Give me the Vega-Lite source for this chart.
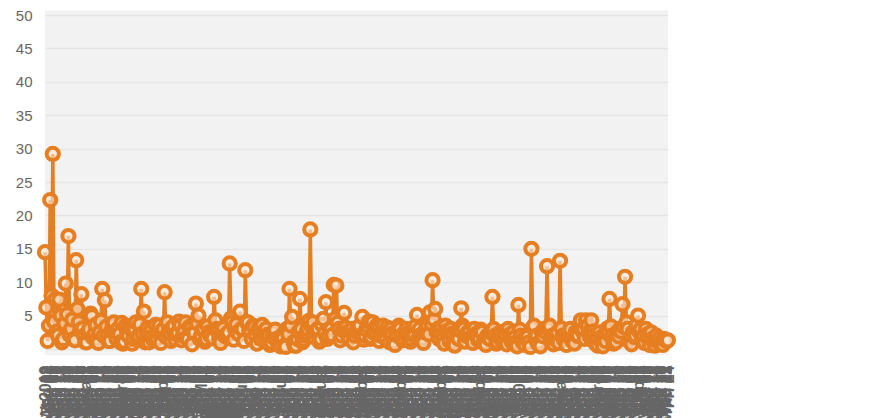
{
"$schema": "https://vega.github.io/schema/vega-lite/v6.json",
"width": 841, "height": 334,
"autosize": {"type": "none"},
"padding": {"left": 45, "top": 15, "right": 0, "bottom": 69},
"background": "#ffffff",
"config": {"view": {"stroke": null}, "axis": {"labelFont": "Liberation Sans", "labelColor": "#666666", "domain": false, "ticks": false, "title": null}},
"data": {"values": [
{"d":"2019-01-01","v":14.5},{"d":"2019-01-02","v":6.2},{"d":"2019-01-03","v":1.2},{"d":"2019-01-04","v":3.5},{"d":"2019-01-05","v":22.3},{"d":"2019-01-06","v":8.0},{"d":"2019-01-07","v":29.2},{"d":"2019-01-08","v":4.1},{"d":"2019-01-09","v":7.5},{"d":"2019-01-10","v":2.6},
{"d":"2019-01-11","v":2.0},{"d":"2019-01-12","v":7.4},{"d":"2019-01-13","v":5.0},{"d":"2019-01-14","v":1.0},{"d":"2019-01-15","v":1.5},{"d":"2019-01-16","v":3.8},{"d":"2019-01-17","v":9.8},{"d":"2019-01-18","v":5.2},{"d":"2019-01-19","v":16.9},{"d":"2019-01-20","v":2.1},
{"d":"2019-01-21","v":3.0},{"d":"2019-01-22","v":4.4},{"d":"2019-01-23","v":1.5},{"d":"2019-01-24","v":1.3},{"d":"2019-01-25","v":13.3},{"d":"2019-01-26","v":6.0},{"d":"2019-01-27","v":4.0},{"d":"2019-01-28","v":2.8},{"d":"2019-01-29","v":8.2},{"d":"2019-01-30","v":3.1},{"d":"2019-01-31","v":2.0},
{"d":"2019-02-01","v":1.0},{"d":"2019-02-02","v":1.0},{"d":"2019-02-03","v":2.4},{"d":"2019-02-04","v":3.0},{"d":"2019-02-05","v":5.3},{"d":"2019-02-06","v":4.9},{"d":"2019-02-07","v":1.7},{"d":"2019-02-08","v":2.2},{"d":"2019-02-09","v":3.6},{"d":"2019-02-10","v":1.5},
{"d":"2019-02-11","v":0.9},{"d":"2019-02-12","v":2.5},{"d":"2019-02-13","v":4.2},{"d":"2019-02-14","v":9.0},{"d":"2019-02-15","v":2.0},{"d":"2019-02-16","v":7.3},{"d":"2019-02-17","v":3.3},{"d":"2019-02-18","v":2.0},{"d":"2019-02-19","v":1.2},{"d":"2019-02-20","v":1.2},
{"d":"2019-02-21","v":2.7},{"d":"2019-02-22","v":3.5},{"d":"2019-02-23","v":4.0},{"d":"2019-02-24","v":2.5},{"d":"2019-02-25","v":1.5},{"d":"2019-02-26","v":3.0},{"d":"2019-02-27","v":2.2},{"d":"2019-02-28","v":1.0},
{"d":"2019-03-01","v":3.9},{"d":"2019-03-02","v":0.8},{"d":"2019-03-03","v":1.1},{"d":"2019-03-04","v":3.5},{"d":"2019-03-05","v":2.6},{"d":"2019-03-06","v":2.0},{"d":"2019-03-07","v":3.4},{"d":"2019-03-08","v":3.0},{"d":"2019-03-09","v":0.8},{"d":"2019-03-10","v":1.5},
{"d":"2019-03-11","v":2.9},{"d":"2019-03-12","v":4.0},{"d":"2019-03-13","v":1.6},{"d":"2019-03-14","v":2.0},{"d":"2019-03-15","v":3.7},{"d":"2019-03-16","v":9.0},{"d":"2019-03-17","v":2.3},{"d":"2019-03-18","v":5.6},{"d":"2019-03-19","v":1.0},{"d":"2019-03-20","v":2.5},
{"d":"2019-03-21","v":3.2},{"d":"2019-03-22","v":1.0},{"d":"2019-03-23","v":2.0},{"d":"2019-03-24","v":3.0},{"d":"2019-03-25","v":1.4},{"d":"2019-03-26","v":2.0},{"d":"2019-03-27","v":3.6},{"d":"2019-03-28","v":1.5},{"d":"2019-03-29","v":2.5},{"d":"2019-03-30","v":3.5},{"d":"2019-03-31","v":0.9},
{"d":"2019-04-01","v":2.5},{"d":"2019-04-02","v":3.0},{"d":"2019-04-03","v":8.5},{"d":"2019-04-04","v":1.8},{"d":"2019-04-05","v":4.0},{"d":"2019-04-06","v":2.7},{"d":"2019-04-07","v":2.0},{"d":"2019-04-08","v":1.2},{"d":"2019-04-09","v":3.0},{"d":"2019-04-10","v":3.5},
{"d":"2019-04-11","v":1.5},{"d":"2019-04-12","v":2.2},{"d":"2019-04-13","v":2.5},{"d":"2019-04-14","v":4.1},{"d":"2019-04-15","v":3.5},{"d":"2019-04-16","v":1.3},{"d":"2019-04-17","v":2.0},{"d":"2019-04-18","v":2.8},{"d":"2019-04-19","v":4.0},{"d":"2019-04-20","v":1.7},
{"d":"2019-04-21","v":1.5},{"d":"2019-04-22","v":3.3},{"d":"2019-04-23","v":3.0},{"d":"2019-04-24","v":0.7},{"d":"2019-04-25","v":2.5},{"d":"2019-04-26","v":2.4},{"d":"2019-04-27","v":6.8},{"d":"2019-04-28","v":3.8},{"d":"2019-04-29","v":5.0},{"d":"2019-04-30","v":1.5},
{"d":"2019-05-01","v":2.0},{"d":"2019-05-02","v":2.9},{"d":"2019-05-03","v":3.0},{"d":"2019-05-04","v":1.1},{"d":"2019-05-05","v":1.5},{"d":"2019-05-06","v":3.4},{"d":"2019-05-07","v":2.5},{"d":"2019-05-08","v":2.0},{"d":"2019-05-09","v":2.0},{"d":"2019-05-10","v":1.6},
{"d":"2019-05-11","v":7.8},{"d":"2019-05-12","v":4.3},{"d":"2019-05-13","v":3.0},{"d":"2019-05-14","v":2.6},{"d":"2019-05-15","v":1.5},{"d":"2019-05-16","v":0.9},{"d":"2019-05-17","v":2.5},{"d":"2019-05-18","v":3.1},{"d":"2019-05-19","v":2.0},{"d":"2019-05-20","v":1.9},
{"d":"2019-05-21","v":2.0},{"d":"2019-05-22","v":2.5},{"d":"2019-05-23","v":12.8},{"d":"2019-05-24","v":4.6},{"d":"2019-05-25","v":4.0},{"d":"2019-05-26","v":1.4},{"d":"2019-05-27","v":3.0},{"d":"2019-05-28","v":3.7},{"d":"2019-05-29","v":2.5},{"d":"2019-05-30","v":2.2},{"d":"2019-05-31","v":5.6},
{"d":"2019-06-01","v":3.0},{"d":"2019-06-02","v":3.0},{"d":"2019-06-03","v":1.2},{"d":"2019-06-04","v":11.8},{"d":"2019-06-05","v":4.0},{"d":"2019-06-06","v":4.0},{"d":"2019-06-07","v":2.7},{"d":"2019-06-08","v":2.5},{"d":"2019-06-09","v":1.5},{"d":"2019-06-10","v":3.5},
{"d":"2019-06-11","v":3.3},{"d":"2019-06-12","v":2.0},{"d":"2019-06-13","v":0.8},{"d":"2019-06-14","v":3.0},{"d":"2019-06-15","v":2.4},{"d":"2019-06-16","v":1.5},{"d":"2019-06-17","v":3.6},{"d":"2019-06-18","v":2.5},{"d":"2019-06-19","v":1.7},{"d":"2019-06-20","v":3.0},
{"d":"2019-06-21","v":2.1},{"d":"2019-06-22","v":2.0},{"d":"2019-06-23","v":0.6},{"d":"2019-06-24","v":1.0},{"d":"2019-06-25","v":1.8},{"d":"2019-06-26","v":2.5},{"d":"2019-06-27","v":2.9},{"d":"2019-06-28","v":1.5},{"d":"2019-06-29","v":0.9},{"d":"2019-06-30","v":1.0},
{"d":"2019-07-01","v":0.4},{"d":"2019-07-02","v":2.0},{"d":"2019-07-03","v":1.6},{"d":"2019-07-04","v":0.5},{"d":"2019-07-05","v":0.3},{"d":"2019-07-06","v":3.0},{"d":"2019-07-07","v":2.2},{"d":"2019-07-08","v":9.0},{"d":"2019-07-09","v":3.5},{"d":"2019-07-10","v":4.8},
{"d":"2019-07-11","v":1.0},{"d":"2019-07-12","v":0.5},{"d":"2019-07-13","v":0.5},{"d":"2019-07-14","v":1.5},{"d":"2019-07-15","v":2.6},{"d":"2019-07-16","v":7.5},{"d":"2019-07-17","v":3.0},{"d":"2019-07-18","v":1.0},{"d":"2019-07-19","v":1.4},{"d":"2019-07-20","v":2.0},
{"d":"2019-07-21","v":2.5},{"d":"2019-07-22","v":3.0},{"d":"2019-07-23","v":4.2},{"d":"2019-07-24","v":17.9},{"d":"2019-07-25","v":3.3},{"d":"2019-07-26","v":4.0},{"d":"2019-07-27","v":1.8},{"d":"2019-07-28","v":2.5},{"d":"2019-07-29","v":2.9},{"d":"2019-07-30","v":3.0},{"d":"2019-07-31","v":1.1},
{"d":"2019-08-01","v":1.5},{"d":"2019-08-02","v":3.6},{"d":"2019-08-03","v":4.5},{"d":"2019-08-04","v":2.4},{"d":"2019-08-05","v":7.0},{"d":"2019-08-06","v":1.5},{"d":"2019-08-07","v":2.0},{"d":"2019-08-08","v":3.0},{"d":"2019-08-09","v":3.0},{"d":"2019-08-10","v":2.1},
{"d":"2019-08-11","v":9.6},{"d":"2019-08-12","v":4.5},{"d":"2019-08-13","v":9.5},{"d":"2019-08-14","v":3.9},{"d":"2019-08-15","v":3.0},{"d":"2019-08-16","v":1.3},{"d":"2019-08-17","v":2.0},{"d":"2019-08-18","v":2.8},{"d":"2019-08-19","v":5.4},{"d":"2019-08-20","v":3.2},
{"d":"2019-08-21","v":2.5},{"d":"2019-08-22","v":1.9},{"d":"2019-08-23","v":1.5},{"d":"2019-08-24","v":2.6},{"d":"2019-08-25","v":3.0},{"d":"2019-08-26","v":1.0},{"d":"2019-08-27","v":2.0},{"d":"2019-08-28","v":2.7},{"d":"2019-08-29","v":2.5},{"d":"2019-08-30","v":3.3},{"d":"2019-08-31","v":3.5},
{"d":"2019-09-01","v":2.0},{"d":"2019-09-02","v":4.8},{"d":"2019-09-03","v":1.4},{"d":"2019-09-04","v":2.0},{"d":"2019-09-05","v":2.9},{"d":"2019-09-06","v":3.5},{"d":"2019-09-07","v":4.1},{"d":"2019-09-08","v":1.5},{"d":"2019-09-09","v":1.8},{"d":"2019-09-10","v":4.0},
{"d":"2019-09-11","v":2.4},{"d":"2019-09-12","v":2.5},{"d":"2019-09-13","v":3.5},{"d":"2019-09-14","v":3.0},{"d":"2019-09-15","v":1.2},{"d":"2019-09-16","v":2.0},{"d":"2019-09-17","v":2.8},{"d":"2019-09-18","v":3.5},{"d":"2019-09-19","v":1.9},{"d":"2019-09-20","v":1.5},
{"d":"2019-09-21","v":3.2},{"d":"2019-09-22","v":2.5},{"d":"2019-09-23","v":1.0},{"d":"2019-09-24","v":3.0},{"d":"2019-09-25","v":2.3},{"d":"2019-09-26","v":1.0},{"d":"2019-09-27","v":0.6},{"d":"2019-09-28","v":2.5},{"d":"2019-09-29","v":2.0},{"d":"2019-09-30","v":3.5},
{"d":"2019-10-01","v":3.0},{"d":"2019-10-02","v":2.0},{"d":"2019-10-03","v":1.3},{"d":"2019-10-04","v":1.5},{"d":"2019-10-05","v":2.6},{"d":"2019-10-06","v":3.0},{"d":"2019-10-07","v":1.7},{"d":"2019-10-08","v":2.5},{"d":"2019-10-09","v":1.1},{"d":"2019-10-10","v":1.5},
{"d":"2019-10-11","v":2.4},{"d":"2019-10-12","v":2.0},{"d":"2019-10-13","v":3.4},{"d":"2019-10-14","v":5.1},{"d":"2019-10-15","v":1.6},{"d":"2019-10-16","v":3.0},{"d":"2019-10-17","v":2.1},{"d":"2019-10-18","v":1.5},{"d":"2019-10-19","v":0.9},{"d":"2019-10-20","v":2.5},
{"d":"2019-10-21","v":3.1},{"d":"2019-10-22","v":3.5},{"d":"2019-10-23","v":2.2},{"d":"2019-10-24","v":5.5},{"d":"2019-10-25","v":3.8},{"d":"2019-10-26","v":10.3},{"d":"2019-10-27","v":4.4},{"d":"2019-10-28","v":6.0},{"d":"2019-10-29","v":2.6},{"d":"2019-10-30","v":3.0},{"d":"2019-10-31","v":1.5},
{"d":"2019-11-01","v":2.5},{"d":"2019-11-02","v":3.3},{"d":"2019-11-03","v":1.5},{"d":"2019-11-04","v":0.8},{"d":"2019-11-05","v":3.5},{"d":"2019-11-06","v":2.7},{"d":"2019-11-07","v":2.0},{"d":"2019-11-08","v":1.2},{"d":"2019-11-09","v":3.0},{"d":"2019-11-10","v":2.3},
{"d":"2019-11-11","v":1.0},{"d":"2019-11-12","v":0.5},{"d":"2019-11-13","v":2.5},{"d":"2019-11-14","v":1.9},{"d":"2019-11-15","v":1.5},{"d":"2019-11-16","v":2.8},{"d":"2019-11-17","v":6.1},{"d":"2019-11-18","v":3.5},{"d":"2019-11-19","v":3.0},{"d":"2019-11-20","v":1.1},
{"d":"2019-11-21","v":2.0},{"d":"2019-11-22","v":2.5},{"d":"2019-11-23","v":2.5},{"d":"2019-11-24","v":1.7},{"d":"2019-11-25","v":1.5},{"d":"2019-11-26","v":0.9},{"d":"2019-11-27","v":3.0},{"d":"2019-11-28","v":2.2},{"d":"2019-11-29","v":2.0},{"d":"2019-11-30","v":1.4},
{"d":"2019-12-01","v":1.5},{"d":"2019-12-02","v":2.9},{"d":"2019-12-03","v":2.5},{"d":"2019-12-04","v":1.0},{"d":"2019-12-05","v":1.0},{"d":"2019-12-06","v":0.6},{"d":"2019-12-07","v":2.0},{"d":"2019-12-08","v":1.6},{"d":"2019-12-09","v":1.5},{"d":"2019-12-10","v":2.4},
{"d":"2019-12-11","v":7.8},{"d":"2019-12-12","v":3.0},{"d":"2019-12-13","v":2.0},{"d":"2019-12-14","v":0.8},{"d":"2019-12-15","v":1.0},{"d":"2019-12-16","v":1.9},{"d":"2019-12-17","v":2.5},{"d":"2019-12-18","v":1.3},{"d":"2019-12-19","v":1.5},{"d":"2019-12-20","v":2.6},
{"d":"2019-12-21","v":2.0},{"d":"2019-12-22","v":0.7},{"d":"2019-12-23","v":3.0},{"d":"2019-12-24","v":2.1},{"d":"2019-12-25","v":1.5},{"d":"2019-12-26","v":1.0},{"d":"2019-12-27","v":2.5},{"d":"2019-12-28","v":1.7},{"d":"2019-12-29","v":1.0},{"d":"2019-12-30","v":0.4},{"d":"2019-12-31","v":6.6},
{"d":"2020-01-01","v":2.9},{"d":"2020-01-02","v":2.0},{"d":"2020-01-03","v":1.1},{"d":"2020-01-04","v":1.5},{"d":"2020-01-05","v":0.6},{"d":"2020-01-06","v":2.0},{"d":"2020-01-07","v":1.8},{"d":"2020-01-08","v":1.0},{"d":"2020-01-09","v":0.3},{"d":"2020-01-10","v":15.0},
{"d":"2020-01-11","v":3.2},{"d":"2020-01-12","v":3.5},{"d":"2020-01-13","v":1.5},{"d":"2020-01-14","v":2.0},{"d":"2020-01-15","v":0.8},{"d":"2020-01-16","v":1.0},{"d":"2020-01-17","v":0.4},{"d":"2020-01-18","v":2.5},{"d":"2020-01-19","v":1.9},{"d":"2020-01-20","v":3.0},
{"d":"2020-01-21","v":2.5},{"d":"2020-01-22","v":12.4},{"d":"2020-01-23","v":3.0},{"d":"2020-01-24","v":3.5},{"d":"2020-01-25","v":1.2},{"d":"2020-01-26","v":2.0},{"d":"2020-01-27","v":0.7},{"d":"2020-01-28","v":1.5},{"d":"2020-01-29","v":2.2},{"d":"2020-01-30","v":2.5},{"d":"2020-01-31","v":0.9},
{"d":"2020-02-01","v":13.2},{"d":"2020-02-02","v":3.1},{"d":"2020-02-03","v":2.0},{"d":"2020-02-04","v":1.4},{"d":"2020-02-05","v":1.5},{"d":"2020-02-06","v":0.6},{"d":"2020-02-07","v":2.0},{"d":"2020-02-08","v":2.4},{"d":"2020-02-09","v":3.0},{"d":"2020-02-10","v":1.3},
{"d":"2020-02-11","v":1.5},{"d":"2020-02-12","v":0.8},{"d":"2020-02-13","v":2.5},{"d":"2020-02-14","v":2.0},{"d":"2020-02-15","v":2.0},{"d":"2020-02-16","v":3.6},{"d":"2020-02-17","v":4.3},{"d":"2020-02-18","v":2.7},{"d":"2020-02-19","v":3.0},{"d":"2020-02-20","v":1.5},
{"d":"2020-02-21","v":4.3},{"d":"2020-02-22","v":3.4},{"d":"2020-02-23","v":2.5},{"d":"2020-02-24","v":1.8},{"d":"2020-02-25","v":4.3},{"d":"2020-02-26","v":2.6},{"d":"2020-02-27","v":2.0},{"d":"2020-02-28","v":0.9},{"d":"2020-02-29","v":1.5},
{"d":"2020-03-01","v":0.5},{"d":"2020-03-02","v":2.5},{"d":"2020-03-03","v":1.7},{"d":"2020-03-04","v":1.0},{"d":"2020-03-05","v":0.4},{"d":"2020-03-06","v":2.0},{"d":"2020-03-07","v":1.2},{"d":"2020-03-08","v":3.0},{"d":"2020-03-09","v":2.3},{"d":"2020-03-10","v":7.5},
{"d":"2020-03-11","v":3.4},{"d":"2020-03-12","v":2.0},{"d":"2020-03-13","v":0.8},{"d":"2020-03-14","v":1.5},{"d":"2020-03-15","v":1.0},{"d":"2020-03-16","v":2.5},{"d":"2020-03-17","v":1.9},{"d":"2020-03-18","v":3.0},{"d":"2020-03-19","v":2.6},{"d":"2020-03-20","v":6.7},
{"d":"2020-03-21","v":3.3},{"d":"2020-03-22","v":10.8},{"d":"2020-03-23","v":4.0},{"d":"2020-03-24","v":3.0},{"d":"2020-03-25","v":1.2},{"d":"2020-03-26","v":1.5},{"d":"2020-03-27","v":0.7},{"d":"2020-03-28","v":2.5},{"d":"2020-03-29","v":1.8},{"d":"2020-03-30","v":2.0},{"d":"2020-03-31","v":3.6},
{"d":"2020-04-01","v":5.0},{"d":"2020-04-02","v":2.5},{"d":"2020-04-03","v":3.0},{"d":"2020-04-04","v":1.4},{"d":"2020-04-05","v":2.0},{"d":"2020-04-06","v":0.9},{"d":"2020-04-07","v":3.0},{"d":"2020-04-08","v":2.2},{"d":"2020-04-09","v":1.5},{"d":"2020-04-10","v":0.6},
{"d":"2020-04-11","v":2.5},{"d":"2020-04-12","v":1.5},{"d":"2020-04-13","v":1.0},{"d":"2020-04-14","v":0.5},{"d":"2020-04-15","v":2.0},{"d":"2020-04-16","v":1.1},{"d":"2020-04-17","v":1.5},{"d":"2020-04-18","v":0.8},{"d":"2020-04-19","v":1.0},{"d":"2020-04-20","v":0.6},
{"d":"2020-04-21","v":1.5},{"d":"2020-04-22","v":1.3},{"d":"2020-04-23","v":1.2},{"d":"2020-04-24","v":1.3}
]},
"layer": [
{
"data": {"values": [{"s": "2019-01-01", "e": "2020-04-24"}]},
"mark": {"type": "rect", "color": "#000000", "opacity": 0.05},
"encoding": {
"x": {"field": "s", "type": "temporal", "scale": {"type": "utc", "range": [0, 623], "nice": false}, "axis": {"format": "%Y-%m-%d", "formatType": "utc", "tickCount": {"interval": "day", "step": 1}, "labelOverlap": false, "labelAngle": -90, "labelFontSize": 16, "labelFontWeight": "bold", "labelPadding": 16, "grid": false, "labelBound": false, "labelFlush": false}},
"x2": {"field": "e"},
"y": {"datum": -0.9, "type": "quantitative", "scale": {"domain": [0, 50], "nice": false}, "axis": {"tickCount": 10, "labelExpr": "datum.value == 0 ? '' : datum.label", "labelFontSize": 15, "labelPadding": 13, "grid": true, "gridColor": "#f2f2f2", "gridWidth": 1.5}},
"y2": {"datum": 50.7}
}
},
{
"mark": {"type": "line", "color": "#e67e22", "strokeWidth": 3.5},
"encoding": {
"x": {"field": "d", "type": "temporal", "scale": {"type": "utc", "range": [0, 623], "nice": false}},
"y": {"field": "v", "type": "quantitative", "scale": {"domain": [0, 50], "nice": false}}
}
},
{
"mark": {"type": "point", "shape": "circle", "filled": true, "fill": "#fbe7d6", "fillOpacity": 0.6, "stroke": "#e67e22", "strokeWidth": 4, "strokeOpacity": 1, "size": 150},
"encoding": {
"x": {"field": "d", "type": "temporal", "scale": {"type": "utc", "range": [0, 623], "nice": false}},
"y": {"field": "v", "type": "quantitative", "scale": {"domain": [0, 50], "nice": false}}
}
}
]
}
